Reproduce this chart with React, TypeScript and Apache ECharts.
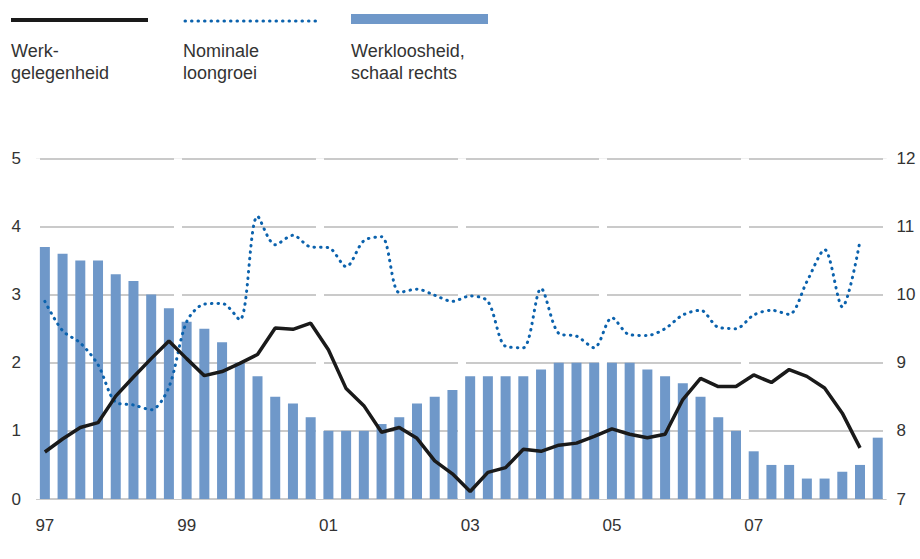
import React, { useEffect, useRef } from "react";
import * as echarts from "echarts";

const quarters = [
  "1997K1","1997K2","1997K3","1997K4","1998K1","1998K2","1998K3","1998K4",
  "1999K1","1999K2","1999K3","1999K4","2000K1","2000K2","2000K3","2000K4",
  "2001K1","2001K2","2001K3","2001K4","2002K1","2002K2","2002K3","2002K4",
  "2003K1","2003K2","2003K3","2003K4","2004K1","2004K2","2004K3","2004K4",
  "2005K1","2005K2","2005K3","2005K4","2006K1","2006K2","2006K3","2006K4",
  "2007K1","2007K2","2007K3","2007K4","2008K1","2008K2","2008K3","2008K4",
];

const xTickLabels: Record<string, string> = {
  "1997K1": "97", "1999K1": "99", "2001K1": "01", "2003K1": "03", "2005K1": "05", "2007K1": "07",
};

const werkgelegenheid = [
  0.69, 0.88, 1.05, 1.12, 1.51, 1.79, 2.06, 2.32,
  2.06, 1.81, 1.87, 1.99, 2.12, 2.51, 2.49, 2.58,
  2.19, 1.62, 1.37, 0.98, 1.05, 0.89, 0.56, 0.37,
  0.11, 0.39, 0.46, 0.73, 0.70, 0.79, 0.82, 0.92,
  1.03, 0.95, 0.90, 0.95, 1.46, 1.77, 1.65, 1.65,
  1.82, 1.71, 1.90, 1.80, 1.63, 1.26, 0.75, null,
];

const loongroei = [
  2.90, 2.47, 2.29, 1.97, 1.42, 1.38, 1.31, 1.64,
  2.60, 2.86, 2.87, 2.63, 4.15, 3.73, 3.87, 3.70,
  3.69, 3.41, 3.79, 3.85, 3.03, 3.08, 2.99, 2.90,
  2.98, 2.90, 2.24, 2.22, 3.09, 2.43, 2.39, 2.22,
  2.66, 2.41, 2.40, 2.50, 2.70, 2.77, 2.52, 2.50,
  2.70, 2.77, 2.71, 3.19, 3.66, 2.82, 3.79, null,
];

const werkloosheid = [
  10.7, 10.6, 10.5, 10.5, 10.3, 10.2, 10.0, 9.8,
  9.6, 9.5, 9.3, 9.0, 8.8, 8.5, 8.4, 8.2,
  8.0, 8.0, 8.0, 8.1, 8.2, 8.4, 8.5, 8.6,
  8.8, 8.8, 8.8, 8.8, 8.9, 9.0, 9.0, 9.0,
  9.0, 9.0, 8.9, 8.8, 8.7, 8.5, 8.2, 8.0,
  7.7, 7.5, 7.5, 7.3, 7.3, 7.4, 7.5, 7.9,
];

const legendNames = ["Werk-\ngelegenheid", "Nominale\nloongroei", "Werkloosheid,\nschaal rechts"];

const FONT = "'Liberation Sans', Arial, sans-serif";
const TEXT = "#333333";
const BAR = "#6f98c9";
const DOT = "#0b62ad";
const GRID = "#b8b8b8";

export default function App() {
  const ref = useRef<HTMLDivElement>(null);

  useEffect(() => {
    if (!ref.current) return;
    const chart = echarts.init(ref.current, null, { renderer: "svg" });
    const legendText = (x: number, text: string) => ({
      type: "text",
      x,
      y: 40,
      style: { text, fill: TEXT, font: `18px ${FONT}`, lineHeight: 22, textVerticalAlign: "top" },
    });
    chart.setOption({
      animation: false,
      backgroundColor: "#ffffff",
      textStyle: { fontFamily: FONT },
      grid: { left: 36, right: 33.4, top: 158.3, bottom: 60, containLabel: false },
      xAxis: {
        type: "category",
        data: quarters,
        boundaryGap: true,
        z: 1,
        axisLine: { show: false },
        axisTick: { show: false },
        axisLabel: {
          interval: (i: number) => i % 8 === 0,
          formatter: (v: string) => xTickLabels[v] ?? "",
          color: TEXT,
          fontSize: 17,
          fontFamily: FONT,
          margin: 18,
        },
        splitLine: {
          show: true,
          interval: (i: number) => i % 8 === 0,
          lineStyle: { color: "#ffffff", width: 8 },
        },
      },
      yAxis: [
        {
          type: "value",
          min: 0,
          max: 5,
          interval: 1,
          position: "left",
          axisLine: { show: false },
          axisTick: { show: false },
          axisLabel: { color: TEXT, fontSize: 17, fontFamily: FONT, margin: 15, padding: [0, 0, 8, 0] },
          splitLine: { show: true, lineStyle: { color: GRID, width: 1.5 } },
        },
        {
          type: "value",
          min: 7,
          max: 12,
          interval: 1,
          position: "right",
          axisLine: { show: false },
          axisTick: { show: false },
          axisLabel: { color: TEXT, fontSize: 17, fontFamily: FONT, margin: 10, padding: [0, 0, 8, 0] },
          splitLine: { show: false },
        },
      ],
      series: [
        {
          name: "Werkloosheid",
          type: "bar",
          yAxisIndex: 1,
          data: werkloosheid,
          barWidth: 10,
          itemStyle: { color: BAR },
          clip: true,
          z: 2,
        },
        {
          name: "Nominale loongroei",
          type: "line",
          yAxisIndex: 0,
          data: loongroei,
          smooth: 0.3,
          showSymbol: false,
          symbol: "none",
          lineStyle: { color: DOT, width: 3, type: [0.5, 6], cap: "round" },
          z: 3,
        },
        {
          name: "Werkgelegenheid",
          type: "line",
          yAxisIndex: 0,
          data: werkgelegenheid,
          showSymbol: false,
          symbol: "none",
          lineStyle: { color: "#1a1a1a", width: 3.5 },
          z: 4,
        },
      ],
      graphic: [
        { type: "line", shape: { x1: 11, y1: 20, x2: 148, y2: 20 }, style: { stroke: "#1a1a1a", lineWidth: 4 } },
        {
          type: "line",
          shape: { x1: 185, y1: 21, x2: 318, y2: 21 },
          style: { stroke: DOT, lineWidth: 3, lineDash: [0.5, 6], lineCap: "round" },
        },
        { type: "rect", shape: { x: 351, y: 14, width: 137, height: 10 }, style: { fill: BAR } },
        legendText(11, legendNames[0]),
        legendText(183, legendNames[1]),
        legendText(351, legendNames[2]),
      ],
    });
    return () => chart.dispose();
  }, []);

  return <div ref={ref} style={{ position: "fixed", left: 0, top: 0, width: 920, height: 559 }} />;
}
